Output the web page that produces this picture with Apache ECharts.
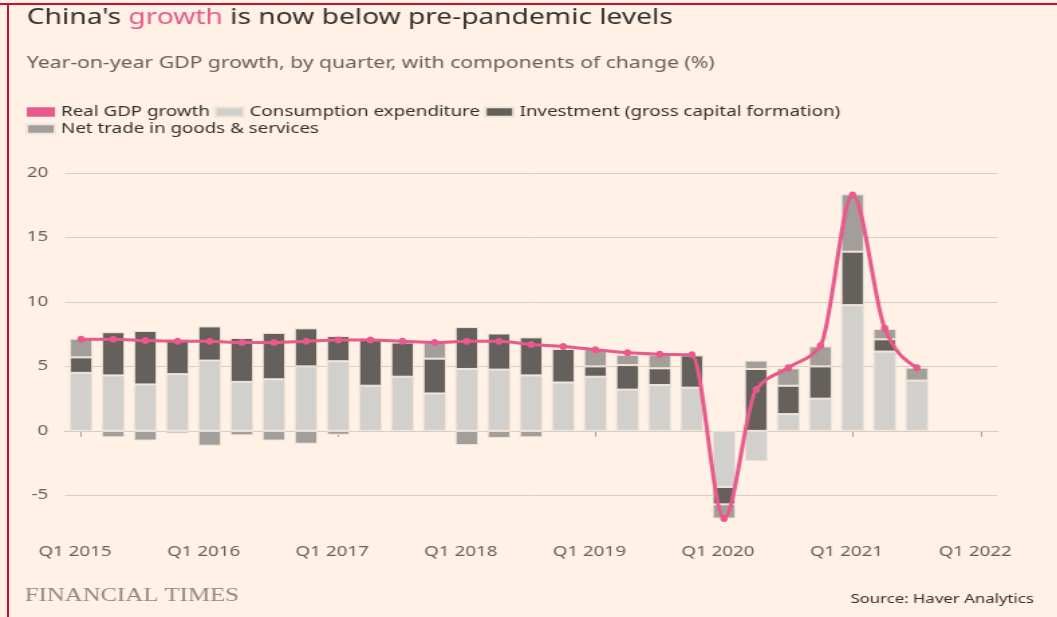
<!DOCTYPE html>
<html>
<head>
<meta charset="utf-8">
<title>China's growth is now below pre-pandemic levels</title>
<script src="https://cdn.jsdelivr.net/npm/echarts@6/dist/echarts.min.js"></script>
<style>
  html, body { margin: 0; padding: 0; background: #fff1e5; overflow: hidden; }
  #page { position: absolute; left: 0; top: 0; width: 1057px; height: 617px; background: #fff1e5; }
  /* the reference is a horizontally stretched screenshot, so the chart is drawn narrower and stretched back */
  #chart { position: absolute; left: 0; top: 0; width: 788.8px; height: 617px; transform: scaleX(1.34); transform-origin: 0 0; }
  .rule-top { position: absolute; left: 0; top: 3px; width: 1057px; height: 2px; background: #c8102e; }
  .rule-left { position: absolute; left: 7px; top: 3px; width: 2px; height: 614px; background: #c8102e; }
</style>
</head>
<body>
<div id="page">
  <div id="chart"></div>
  <div class="rule-top"></div>
  <div class="rule-left"></div>
</div>
<script>
const quarters = [
  'Q1 2015', 'Q2 2015', 'Q3 2015', 'Q4 2015',
  'Q1 2016', 'Q2 2016', 'Q3 2016', 'Q4 2016',
  'Q1 2017', 'Q2 2017', 'Q3 2017', 'Q4 2017',
  'Q1 2018', 'Q2 2018', 'Q3 2018', 'Q4 2018',
  'Q1 2019', 'Q2 2019', 'Q3 2019', 'Q4 2019',
  'Q1 2020', 'Q2 2020', 'Q3 2020', 'Q4 2020',
  'Q1 2021', 'Q2 2021', 'Q3 2021', 'Q4 2021',
  'Q1 2022'
];

// percentage points
const consumption = [4.5, 4.3, 3.6, 4.4, 5.45, 3.8, 4.0, 5.0, 5.4, 3.5, 4.2, 2.9, 4.8, 4.75, 4.3, 3.75, 4.2, 3.2, 3.55, 3.35, -4.35, -2.35, 1.3, 2.5, 9.75, 6.15, 3.9];
const investment = [1.2, 3.35, 4.15, 2.7, 2.65, 3.4, 3.6, 2.95, 1.95, 3.6, 2.65, 2.7, 3.25, 2.8, 2.95, 2.6, 0.8, 1.9, 1.3, 2.5, -1.35, 4.8, 2.2, 2.5, 4.15, 0.95, 0];
const netTrade = [1.45, -0.5, -0.75, -0.2, -1.15, -0.35, -0.75, -1.0, -0.3, 0, 0.1, 1.25, -1.1, -0.55, -0.5, 0.15, 1.35, 0.8, 1.05, 0, -1.1, 0.65, 1.35, 1.55, 4.45, 0.8, 1.0];
const gdpGrowth = [7.1, 7.1, 7.0, 6.95, 6.95, 6.85, 6.85, 6.95, 7.05, 7.05, 6.95, 6.85, 6.95, 6.95, 6.7, 6.55, 6.3, 6.05, 5.95, 5.9, -6.8, 3.2, 4.9, 6.6, 18.3, 7.95, 4.9];

const yTicks = [-5, 0, 5, 10, 15, 20];

const PINK = '#e9598b';
const LIGHT = '#d2d0cd';
const DARK = '#64605c';
const MID = '#a29f9b';
const EDGE = '#f1e4d8';
const FONT = '"Noto Sans", "DejaVu Sans", sans-serif';

// d3-style monotone-x tangents, in pixel space
function tangents(pts) {
  const n = pts.length;
  const t = new Array(n).fill(0);
  for (let i = 1; i < n - 1; i++) {
    const h0 = pts[i][0] - pts[i - 1][0];
    const h1 = pts[i + 1][0] - pts[i][0];
    const s0 = (pts[i][1] - pts[i - 1][1]) / h0;
    const s1 = (pts[i + 1][1] - pts[i][1]) / h1;
    const p = (s0 * h1 + s1 * h0) / (h0 + h1);
    t[i] = (Math.sign(s0) + Math.sign(s1)) * Math.min(Math.abs(s0), Math.abs(s1), 0.5 * Math.abs(p)) || 0;
  }
  const h = pts[1][0] - pts[0][0];
  t[0] = (3 * (pts[1][1] - pts[0][1]) / h - t[1]) / 2;
  const m = n - 1;
  const hm = pts[m][0] - pts[m - 1][0];
  t[m] = (3 * (pts[m][1] - pts[m - 1][1]) / hm - t[m - 1]) / 2;
  return t;
}

function renderCurve(params, api) {
  const i = params.dataIndex;
  if (i >= gdpGrowth.length - 1) return null;
  const pts = gdpGrowth.map((v, k) => api.coord([k, v]));
  const t = tangents(pts);
  const a = pts[i], b = pts[i + 1];
  const dx = (b[0] - a[0]) / 3;
  return {
    type: 'bezierCurve',
    shape: {
      x1: a[0], y1: a[1],
      x2: b[0], y2: b[1],
      cpx1: a[0] + dx, cpy1: a[1] + dx * t[i],
      cpx2: b[0] - dx, cpy2: b[1] - dx * t[i + 1]
    },
    style: { stroke: PINK, lineWidth: 3, fill: null }
  };
}

const barBase = {
  type: 'bar',
  stack: 'gdp',
  barWidth: '72%',
  z: 2
};

const chart = echarts.init(document.getElementById('chart'), null, { renderer: 'canvas' });

chart.setOption({
  animation: false,
  backgroundColor: '#fff1e5',
  textStyle: { fontFamily: FONT },
  title: [
    {
      text: "China's {g|growth} is now below pre-pandemic levels",
      left: 20,
      top: 8,
      padding: 0,
      textStyle: {
        fontFamily: FONT, fontSize: 21, fontWeight: 'normal', color: '#33302e',
        rich: { g: { fontFamily: FONT, fontSize: 21, color: PINK } }
      }
    },
    {
      text: 'Year-on-year GDP growth, by quarter, with components of change (%)',
      left: 20,
      top: 55,
      padding: 0,
      textStyle: { fontFamily: FONT, fontSize: 15.8, fontWeight: 'normal', color: '#66605c' }
    }
  ],
  legend: {
    left: 19,
    top: 105,
    width: 680,
    padding: 0,
    icon: 'rect',
    itemWidth: 21,
    itemHeight: 9.5,
    itemGap: 3,
    selectedMode: false,
    textStyle: { fontFamily: FONT, fontSize: 14, color: '#33302e', padding: [0, 0, 0, -0.5] },
    data: [
      { name: 'Real GDP growth', itemStyle: { color: PINK } },
      { name: 'Consumption expenditure', itemStyle: { color: LIGHT } },
      { name: 'Investment (gross capital formation)', itemStyle: { color: DARK } },
      { name: 'Net trade in goods & services', itemStyle: { color: MID } }
    ]
  },
  grid: { left: 48.5, right: 44.8, top: 173, bottom: 83, containLabel: false },
  xAxis: {
    type: 'category',
    data: quarters,
    boundaryGap: true,
    axisLine: { lineStyle: { color: '#a8a19b', width: 1 } },
    axisTick: { show: true, interval: 3, alignWithLabel: true, length: 6, lineStyle: { color: '#a8a19b' } },
    axisLabel: { interval: 3, color: '#66605c', fontSize: 14, margin: 11, padding: [0, 9, 0, 0], fontFamily: FONT },
    splitLine: { show: false }
  },
  yAxis: {
    type: 'value',
    min: -8,
    max: 20,
    axisLine: { show: false },
    axisTick: { show: false },
    splitLine: { show: false },
    axisLabel: { customValues: yTicks, color: '#66605c', fontSize: 14, margin: 12.5, fontFamily: FONT }
  },
  graphic: [
    {
      type: 'text', left: 18.5, top: 587,
      style: { text: 'FINANCIAL TIMES', fill: '#8f8983', font: '18.5px "Liberation Serif", "DejaVu Serif", serif' }
    },
    {
      type: 'text', right: 17.5, top: 593,
      style: { text: 'Source: Haver Analytics', fill: '#33302e', font: '12.5px ' + FONT }
    }
  ],
  series: [
    Object.assign({}, barBase, {
      name: 'Consumption expenditure',
      data: consumption,
      itemStyle: { color: LIGHT, borderColor: EDGE, borderWidth: 1 },
      markLine: {
        silent: true,
        z: 1,
        symbol: ['none', 'none'],
        label: { show: false },
        lineStyle: { color: '#d9cdc2', width: 1, type: 'solid' },
        emphasis: { disabled: true },
        data: yTicks.map(v => ({ yAxis: v }))
      }
    }),
    Object.assign({}, barBase, {
      name: 'Investment (gross capital formation)',
      data: investment,
      itemStyle: { color: DARK, borderColor: EDGE, borderWidth: 1 }
    }),
    Object.assign({}, barBase, {
      name: 'Net trade in goods & services',
      data: netTrade,
      itemStyle: { color: MID, borderColor: EDGE, borderWidth: 1 }
    }),
    {
      type: 'custom',
      name: 'curve',
      coordinateSystem: 'cartesian2d',
      z: 4,
      silent: true,
      data: gdpGrowth.map((v, k) => [k, v]),
      encode: { x: 0, y: 1 },
      renderItem: renderCurve
    },
    {
      type: 'line',
      name: 'Real GDP growth',
      data: gdpGrowth,
      z: 5,
      symbol: 'circle',
      symbolSize: [5.5, 7],
      showSymbol: true,
      itemStyle: { color: PINK },
      lineStyle: { width: 0, opacity: 0 }
    }
  ]
});
</script>
</body>
</html>
